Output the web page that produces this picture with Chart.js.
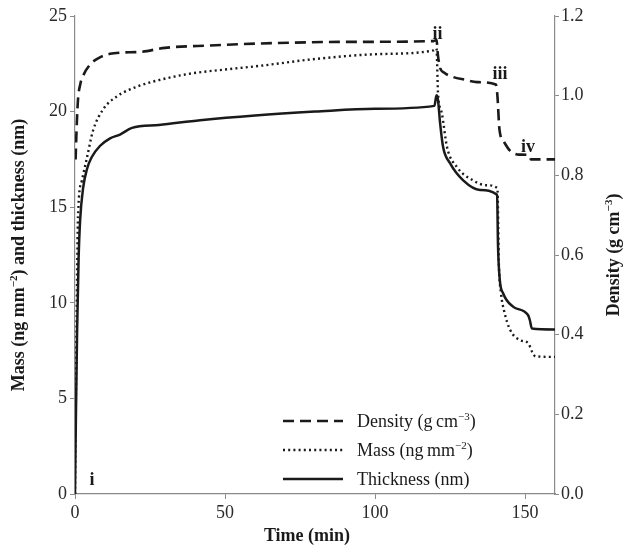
<!DOCTYPE html>
<html>
<head>
<meta charset="utf-8">
<script src="https://cdn.jsdelivr.net/npm/chart.js@4"></script>
<style>
  html, body { margin:0; padding:0; background:#fff; }
  #c { display:block; }
</style>
</head>
<body>
<canvas id="c" width="626" height="547"></canvas>
<script>
// ── data ──
const timeDensity = [0.2, 0.6, 1.0, 1.8, 2.7, 5, 8, 11.7, 15, 22, 30, 45, 62, 90, 119.5, 120.5, 121, 121.7, 123, 126, 130, 134, 140.3, 140.8, 141.5, 143, 145, 148, 151.3, 152, 160];
const density     = [0.84, 0.93, 0.99, 1.03, 1.05, 1.078, 1.095, 1.105, 1.108, 1.11, 1.12, 1.126, 1.131, 1.135, 1.137, 1.14, 1.1, 1.07, 1.058, 1.047, 1.04, 1.034, 1.028, 1.0, 0.914, 0.884, 0.862, 0.852, 0.851, 0.84, 0.84];

const timeMass = [0, 0.3, 0.6, 1.0, 2.3, 4, 6, 9.3, 14, 20.6, 28, 39, 50, 62, 80, 100, 119.5, 120.5, 121, 122.3, 124, 127.3, 132.7, 137, 140.8, 141.3, 142, 143, 145, 148.3, 151, 152.5, 153.5, 160];
const mass     = [0, 5, 10, 14.5, 16.4, 17.6, 19.0, 20.1, 20.8, 21.3, 21.65, 22.0, 22.2, 22.4, 22.75, 23.0, 23.2, 23.3, 21, 19.9, 18.15, 17.1, 16.4, 16.15, 16.0, 12.0, 10.5, 9.6, 8.6, 8.05, 7.9, 7.4, 7.2, 7.17];

const timeThick = [0, 0.3, 0.7, 1.2, 1.7, 2.7, 4, 5.5, 8.3, 11.7, 15, 19, 28, 41.7, 60, 80, 100, 119.8, 120.5, 121, 121.7, 122.7, 125, 129.4, 135, 140.7, 141, 141.6, 142.7, 146, 151, 151.6, 152.3, 160];
const thickness = [0, 4, 8.5, 12.3, 14.3, 16.0, 17.0, 17.6, 18.2, 18.6, 18.8, 19.15, 19.3, 19.55, 19.8, 20.0, 20.15, 20.3, 20.85, 20.6, 19.4, 18.15, 17.3, 16.4, 15.9, 15.65, 13.0, 11.2, 10.5, 9.8, 9.36, 9.1, 8.65, 8.6];

const stageLabels = ['i', 'ii', 'iii', 'iv'];
const stageTime   = [5.7, 120.8, 141.7, 151];
const stageValue  = [0.8, 24.1, 22.0, 18.2];

const xTicks = [0, 50, 100, 150];

const SERIF = '"Liberation Serif", "DejaVu Serif", serif';
const AXIS = '#8a8a8a';
const INK = '#1a1a1a';
const TICK = '#2a2a2a';

const pts = (xs, ys) => xs.map((x, i) => ({ x, y: ys[i] }));

// draw a run of text pieces, some of them raised as superscripts
function richWidth(ctx, parts, size, bold) {
  let w = 0;
  parts.forEach(p => {
    ctx.font = (bold ? 'bold ' : '') + (p.sup ? Math.round(size * 0.62) : size) + 'px ' + SERIF;
    w += ctx.measureText(p.t).width;
  });
  return w;
}
function drawRich(ctx, parts, x, y, size, bold, align) {
  let cx = align === 'center' ? x - richWidth(ctx, parts, size, bold) / 2 : x;
  ctx.textAlign = 'left';
  ctx.textBaseline = 'alphabetic';
  parts.forEach(p => {
    const fs = p.sup ? Math.round(size * 0.62) : size;
    ctx.font = (bold ? 'bold ' : '') + fs + 'px ' + SERIF;
    ctx.fillText(p.t, cx, p.sup ? y - size * 0.38 : y);
    cx += ctx.measureText(p.t).width;
  });
}

const decor = {
  id: 'decor',
  afterDraw(chart) {
    const ctx = chart.ctx;
    const xs = chart.scales.x, ys = chart.scales.y;
    const area = chart.chartArea;
    ctx.save();
    ctx.fillStyle = INK;

    // axis titles
    drawRich(ctx, [{ t: 'Time (min)' }], (area.left + area.right) / 2 - 8, 541, 18, true, 'center');

    ctx.save();
    ctx.translate(24, (area.top + area.bottom) / 2);
    ctx.rotate(-Math.PI / 2);
    drawRich(ctx, [{ t: 'Mass (ng mm' }, { t: '\u22122', sup: true }, { t: ') and thickness (nm)' }], 0, 0, 18, true, 'center');
    ctx.restore();

    ctx.save();
    ctx.translate(619, (area.top + area.bottom) / 2);
    ctx.rotate(-Math.PI / 2);
    drawRich(ctx, [{ t: 'Density (g cm' }, { t: '\u22123', sup: true }, { t: ')' }], 0, 0, 18, true, 'center');
    ctx.restore();

    // stage labels
    stageLabels.forEach((s, i) => {
      drawRich(ctx, [{ t: s }], xs.getPixelForValue(stageTime[i]), ys.getPixelForValue(stageValue[i]) + 6, 18, true, 'center');
    });

    // legend
    const rows = [
      { ds: chart.data.datasets[0], parts: [{ t: 'Density (g\u2009cm' }, { t: '\u22123', sup: true }, { t: ')' }], y: 421 },
      { ds: chart.data.datasets[1], parts: [{ t: 'Mass (ng\u2009mm' }, { t: '\u22122', sup: true }, { t: ')' }], y: 450 },
      { ds: chart.data.datasets[2], parts: [{ t: 'Thickness (nm)' }], y: 479 }
    ];
    rows.forEach(r => {
      ctx.save();
      ctx.strokeStyle = INK;
      ctx.lineWidth = r.ds.borderWidth;
      ctx.setLineDash(r.ds.borderDash || []);
      ctx.beginPath();
      ctx.moveTo(283, r.y);
      ctx.lineTo(343, r.y);
      ctx.stroke();
      ctx.restore();
      drawRich(ctx, r.parts, 357, r.y + 6, 18, false, 'left');
    });
    ctx.restore();
  }
};

new Chart(document.getElementById('c'), {
  type: 'line',
  data: {
    datasets: [
      { label: 'Density', data: pts(timeDensity, density), yAxisID: 'y1', borderColor: INK, borderWidth: 2.6, borderDash: [11, 6] },
      { label: 'Mass', data: pts(timeMass, mass), yAxisID: 'y', borderColor: INK, borderWidth: 2.4, borderDash: [2, 3.2] },
      { label: 'Thickness', data: pts(timeThick, thickness), yAxisID: 'y', borderColor: INK, borderWidth: 2.5 }
    ]
  },
  options: {
    responsive: false,
    animation: false,
    devicePixelRatio: 1,
    layout: { padding: { top: 16, left: 0, right: 0, bottom: 0 } },
    elements: { point: { radius: 0 }, line: { cubicInterpolationMode: 'monotone', fill: false } },
    plugins: { legend: { display: false }, tooltip: { enabled: false } },
    scales: {
      x: {
        type: 'linear', min: 0, max: 160,
        afterBuildTicks: s => { s.ticks = xTicks.map(v => ({ value: v })); },
        afterFit: s => { s.height = 53; },
        grid: { drawOnChartArea: false, drawTicks: true, tickLength: 5, color: AXIS },
        border: { color: AXIS, width: 1.2 },
        ticks: { color: TICK, padding: 3, font: { family: SERIF, size: 18 } }
      },
      y: {
        position: 'left', min: 0, max: 25,
        ticks: { stepSize: 5, color: TICK, padding: 3, font: { family: SERIF, size: 18 } },
        afterFit: s => { s.width = 75; },
        grid: { drawOnChartArea: false, drawTicks: true, tickLength: 5, color: AXIS },
        border: { color: AXIS, width: 1.2 }
      },
      y1: {
        position: 'right', min: 0, max: 1.2,
        ticks: { stepSize: 0.2, color: TICK, padding: 2, font: { family: SERIF, size: 18 }, callback: v => v.toFixed(1) },
        afterFit: s => { s.width = 71; },
        grid: { drawOnChartArea: false, drawTicks: true, tickLength: 4, color: AXIS },
        border: { color: AXIS, width: 1.2 }
      }
    }
  },
  plugins: [decor]
});
</script>
</body>
</html>
